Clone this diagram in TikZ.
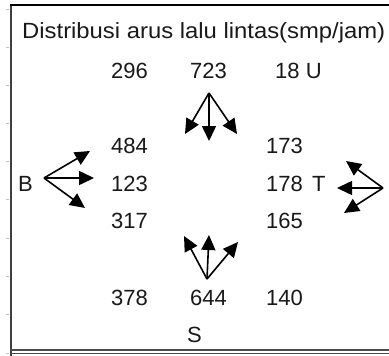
\documentclass[tikz,border=0pt]{standalone}
\usepackage{fontspec}
\usepackage{graphicx}
\setmainfont{Liberation Sans}
\usetikzlibrary{arrows.meta}
\begin{document}
\begin{tikzpicture}[x=1pt,y=-1pt,
 lbl/.style={inner sep=0pt, font=\fontsize{22}{22}\selectfont, text=black!90},
 flow/.style={line width=1.6pt, -{Triangle[length=15pt,width=14pt]}},
 tickmark/.style={draw=black!25, line width=1pt}]
\useasboundingbox (0,0) rectangle (389,356);
% frame
\draw[line width=2pt, black!75] (11,4) -- (11,356);
\draw[line width=2pt, black] (10,4.5) -- (389,4.5);
\draw[line width=1.3pt, black!70] (10,350) -- (389,350);
\draw[line width=1.3pt, black!70] (10,353.5) -- (389,353.5);
\foreach \y in {9,47,85,123,161,199,238,276,314,353} \draw[tickmark] (6,\y) -- (9,\y);
% title
\node[lbl, anchor=base west] (title) at (22,38) {\resizebox{363pt}{\height}{Distribusi arus lalu lintas(smp/jam)}};
% numbers
\node[lbl, anchor=base east] (n296) at (148,78.5) {296};
\node[lbl, anchor=base east] (n723) at (227,78.5) {723};
\node[lbl, anchor=base west] (n18) at (275,78.5) {18 U};
\node[lbl, anchor=base east] (n484) at (148,153.5) {484};
\node[lbl, anchor=base east] (n173) at (303,153.5) {173};
\node[lbl, anchor=base west] (B) at (18,191) {B};
\node[lbl, anchor=base east] (n123) at (148,191) {123};
\node[lbl, anchor=base east] (n178) at (303,191) {178};
\node[lbl, anchor=base west] (T) at (312,191) {T};
\node[lbl, anchor=base east] (n317) at (148,228.5) {317};
\node[lbl, anchor=base east] (n165) at (303,228.5) {165};
\node[lbl, anchor=base east] (n378) at (148,305) {378};
\node[lbl, anchor=base east] (n644) at (227,305) {644};
\node[lbl, anchor=base east] (n140) at (303,305) {140};
\node[lbl, anchor=base west] (S) at (187,342) {S};
% arrow coordinates
\coordinate (No) at (209,93);
\coordinate (Nl) at (185,134);
\coordinate (Nm) at (209,141);
\coordinate (Nr) at (237,134);
\coordinate (So) at (207,279);
\coordinate (Sl) at (184,236);
\coordinate (Sm) at (209,235);
\coordinate (Sr) at (238,242);
\coordinate (Wo) at (44,178);
\coordinate (Wu) at (90,151);
\coordinate (Wm) at (94,178);
\coordinate (Wd) at (85,208);
\coordinate (Eo) at (383,188);
\coordinate (Eu) at (346,161);
\coordinate (Em) at (337,188);
\coordinate (Ed) at (344,213);
\draw[flow] (No) -- (Nl);
\draw[flow] (No) -- (Nm);
\draw[flow] (No) -- (Nr);
\draw[flow] (So) -- (Sl);
\draw[flow] (So) -- (Sm);
\draw[flow] (So) -- (Sr);
\draw[flow] (Wo) -- (Wu);
\draw[flow] (Wo) -- (Wm);
\draw[flow] (Wo) -- (Wd);
\draw[flow] (Eo) -- (Eu);
\draw[flow] (Eo) -- (Em);
\draw[flow] (Eo) -- (Ed);
\end{tikzpicture}
\end{document}
